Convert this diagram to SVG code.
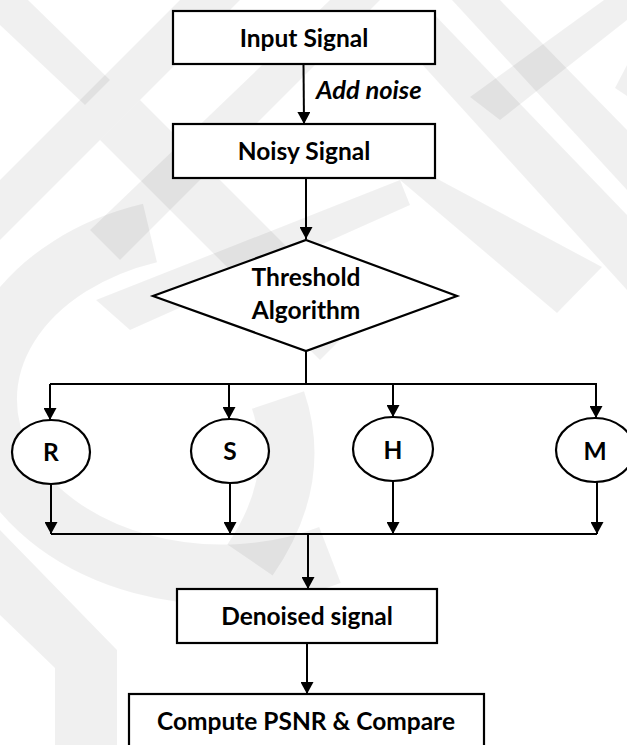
<svg xmlns="http://www.w3.org/2000/svg" width="627" height="745" viewBox="0 0 627 745">
  <defs>
    <marker id="arrow" viewBox="0 0 12 13" refX="12" refY="6.5" markerWidth="12" markerHeight="13" markerUnits="userSpaceOnUse" orient="auto">
      <path d="M0,0 L12,6.5 L0,13 z" fill="#000"/>
    </marker>
    <style>
      .bg { fill: #000; fill-opacity: 0.06; stroke: none; }
      .bgs { fill: none; stroke: #000; stroke-opacity: 0.06; }
      .node { fill: #fff; stroke: #000; stroke-width: 2.2; }
      .wire { fill: none; stroke: #000; stroke-width: 2; }
      .arr { marker-end: url(#arrow); }
      .lbl { font-family: Lato, "Liberation Sans", Arial, sans-serif; font-weight: bold; font-size: 24.5px; fill: #000; text-anchor: middle; }
      .note { font-family: Lato, "Liberation Sans", Arial, sans-serif; font-weight: bold; font-style: italic; font-size: 25.5px; fill: #000; }
    </style>
  </defs>

  <rect width="627" height="745" fill="#fff"/>

  <!-- faint background emblem -->
  <g id="emblem">
    <polygon class="bg" points="0,180 0,240 240,0 180,0"/>
    <polygon class="bg" points="0,0 28,0 110,80 85,105 0,25"/>
    <polygon class="bg" points="100,140 140,100 360,320 320,360"/>
    <polygon class="bg" points="96,300 130,330 410,205 400,180"/>
    <polygon class="bg" points="400,180 430,175 602,267 557,313"/>
    <polygon class="bg" points="330,0 380,0 120,260 90,230"/>
    <polygon class="bg" points="452,0 500,0 627,130 627,190"/>
    <polygon class="bg" points="400,40 430,10 627,215 627,290"/>
    <polygon class="bg" points="470,97 604,0 627,0 627,20 500,120"/>
    <polygon class="bg" points="627,65 615,88 627,96"/>
    <path class="bgs" stroke-width="60" d="M150,233 A235,175 0 1 0 330,555"/>
    <path class="bgs" stroke-width="55" d="M278,400 Q305,480 250,560"/>
    <polygon class="bg" points="0,530 117,650 117,745 55,745 55,668 0,615"/>
  </g>

  <!-- connectors -->
  <g id="connectors">
    <line class="wire arr" x1="303.5" y1="64" x2="304" y2="124"/>
    <line class="wire arr" x1="306" y1="178" x2="306" y2="239"/>
    <polyline class="wire" points="306,351 306,384"/>
    <line class="wire" x1="50" y1="384" x2="597" y2="384"/>
    <line class="wire arr" x1="50" y1="384" x2="50" y2="420"/>
    <line class="wire arr" x1="229" y1="384" x2="229" y2="419"/>
    <line class="wire arr" x1="393" y1="384" x2="393" y2="417"/>
    <line class="wire arr" x1="596" y1="384" x2="596" y2="418"/>
    <line class="wire arr" x1="51" y1="484" x2="51" y2="534"/>
    <line class="wire arr" x1="230" y1="483" x2="230" y2="534"/>
    <line class="wire arr" x1="393" y1="481" x2="393" y2="534"/>
    <line class="wire arr" x1="597" y1="482" x2="597" y2="534"/>
    <line class="wire" x1="51" y1="534" x2="597" y2="534"/>
    <line class="wire arr" x1="308" y1="534" x2="308" y2="589"/>
    <line class="wire arr" x1="307" y1="643" x2="307" y2="694"/>
    <text class="note" x="316" y="99">Add noise</text>
  </g>

  <g id="input-signal">
    <rect class="node" x="173" y="11" width="262" height="53"/>
    <text class="lbl" x="304" y="47">Input Signal</text>
  </g>

  <g id="noisy-signal">
    <rect class="node" x="173" y="124" width="262" height="54"/>
    <text class="lbl" x="304" y="160">Noisy Signal</text>
  </g>

  <g id="threshold-algorithm">
    <polygon class="node" points="306,240 457,296 306,351 153,296"/>
    <text class="lbl" x="306" y="286">Threshold</text>
    <text class="lbl" x="306" y="319">Algorithm</text>
  </g>

  <g id="rule-r">
    <ellipse class="node" cx="51" cy="452" rx="39" ry="32"/>
    <text class="lbl" x="51" y="461">R</text>
  </g>

  <g id="rule-s">
    <ellipse class="node" cx="230" cy="451" rx="39" ry="32"/>
    <text class="lbl" x="230" y="460">S</text>
  </g>

  <g id="rule-h">
    <ellipse class="node" cx="393" cy="449" rx="40" ry="32"/>
    <text class="lbl" x="393" y="459">H</text>
  </g>

  <g id="rule-m">
    <ellipse class="node" cx="595" cy="450" rx="39" ry="32"/>
    <text class="lbl" x="595" y="460">M</text>
  </g>

  <g id="denoised-signal">
    <rect class="node" x="177" y="589" width="260" height="54"/>
    <text class="lbl" x="307" y="625">Denoised signal</text>
  </g>

  <g id="compute-psnr">
    <rect class="node" x="129" y="694" width="355" height="80"/>
    <text class="lbl" x="306" y="730">Compute PSNR &amp; Compare</text>
  </g>
</svg>
